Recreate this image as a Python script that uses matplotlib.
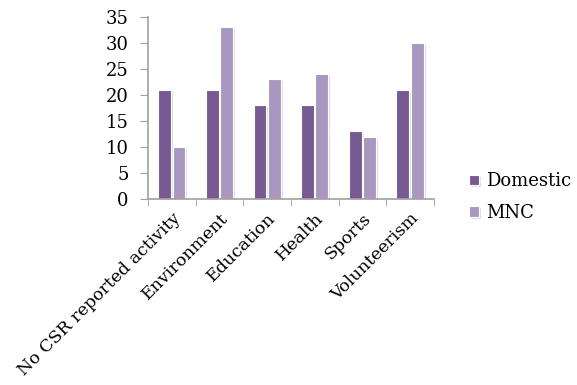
import matplotlib
matplotlib.use("Agg")
import matplotlib.pyplot as plt
import matplotlib.patheffects as pe
import numpy as np

categories = ["No CSR reported activity", "Environment", "Education",
              "Health", "Sports", "Volunteerism"]
domestic = [21, 21, 18, 18, 13, 21]
mnc = [10, 33, 23, 24, 12, 30]

plt.rcParams['font.family'] = ['DejaVu Serif']

fig = plt.figure(figsize=(5.77, 3.85), dpi=100)
ax = fig.add_axes([0.2565, 0.483, 0.4955, 0.473])

x = np.arange(len(categories))
w = 0.27
shadow = [pe.SimplePatchShadow(offset=(1.5, -1.5), shadow_rgbFace='#999999', alpha=0.3), pe.Normal()]
b1 = ax.bar(x - w / 2 - 0.015, domestic, w, color='#765A91', edgecolor='white',
            linewidth=0.8, label='Domestic', path_effects=shadow)
b2 = ax.bar(x + w / 2 + 0.015, mnc, w, color='#A898C0', edgecolor='white',
            linewidth=0.8, label='MNC', path_effects=shadow)

ax.set_xlim(-0.5, len(categories) - 0.5)
ax.set_ylim(0, 35)
ax.set_yticks(range(0, 36, 5))
ax.tick_params(axis='y', labelsize=13, length=6, color='#A0A0A0', pad=8)

ax.set_xticks(x)
ax.set_xticklabels(categories, rotation=45, ha='right', rotation_mode='anchor', fontsize=12.5)
ax.tick_params(axis='x', length=0, pad=8)
ax.set_xticks(np.arange(-0.5, len(categories)), minor=True)
ax.tick_params(axis='x', which='minor', length=5, color='#A0A0A0')

for s in ['top', 'right']:
    ax.spines[s].set_visible(False)
for s in ['left', 'bottom']:
    ax.spines[s].set_color('#A0A0A0')
    ax.spines[s].set_linewidth(1.2)

fig.legend(handles=[b1, b2], loc='center left', bbox_to_anchor=(0.813, 0.488),
           frameon=False, fontsize=13, handlelength=0.55, handleheight=0.55,
           handletextpad=0.4, labelspacing=0.75, borderpad=0, borderaxespad=0)

fig.savefig("out.png", dpi=100)
